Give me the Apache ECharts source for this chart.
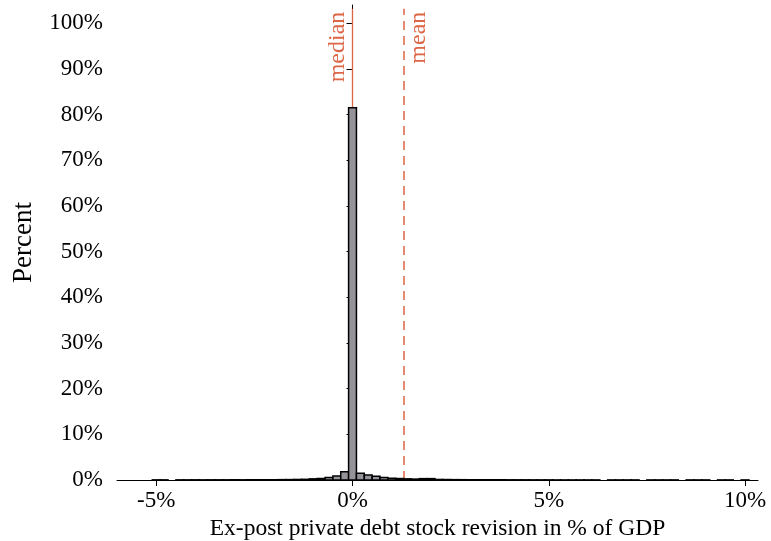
<!DOCTYPE html>
<html>
<head>
  <meta charset="utf-8" />
  <script src="https://cdn.jsdelivr.net/npm/echarts@6/dist/echarts.min.js"></script>
  <style>
    html, body { margin: 0; padding: 0; background: #fff; }
    #main { width: 771px; height: 541px; }
  </style>
</head>
<body>
<div id="main"></div>
<script>
  // histogram bins: width 0.2 pp, first bin starts at -5.1
  let binWidth = 0.2
  let firstBinLeft = -5.1
  // share of observations per bin, in %  (null = empty bin)
  let binShares = [
    0.03, 0.03, null, 0.03, 0.03, 0.04, 0.03, 0.04, 0.04, 0.04,
    0.05, 0.04, 0.05, 0.05, 0.06, 0.06, 0.08, 0.09, 0.12, 0.15,
    0.25, 0.35, 0.55, 0.85, 1.8,
    81.5,
    1.5, 1.1, 0.8, 0.55, 0.4, 0.32, 0.25, 0.2, 0.3, 0.3,
    0.12, 0.1, 0.08, 0.07, 0.06, 0.06, 0.05, 0.05, 0.05, 0.04,
    0.04, 0.04, 0.03, 0.03, 0.03, 0.02, 0.02, 0.02, 0.02, 0.02,
    0.02, null, 0.02, 0.02, 0.02, 0.02, null, 0.02, 0.02, 0.02,
    0.02, null, 0.02, 0.02, 0.02, null, 0.02, 0.02, null, 0.02
  ]
  let medianValue = 0
  let meanValue = 1.3
  let xTickValues = [-5, 0, 5, 10]
  let yTickValues = [0, 10, 20, 30, 40, 50, 60, 70, 80, 90, 100]

  let serif = "'Liberation Serif', 'Times New Roman', serif"
  let barFill = '#959399'
  let refColor = '#dc6646'
  let lineTop = 103.2

  let histData = []
  for (let i = 0; i < binShares.length; i++) {
    if (binShares[i] == null) continue
    let left = firstBinLeft + i * binWidth
    histData.push([left, left + binWidth, binShares[i]])
  }

  let chart = echarts.init(document.getElementById('main'))

  chart.setOption({
    animation: false,
    grid: { left: 117, right: 13, top: 5, bottom: 61, outerBoundsMode: 'none', containLabel: false },
    xAxis: {
      type: 'value',
      min: -6,
      max: 10.33,
      splitLine: { show: false },
      axisLine: { lineStyle: { color: '#000', width: 1 } },
      axisTick: { customValues: xTickValues, length: 6, lineStyle: { color: '#000' } },
      axisLabel: {
        customValues: xTickValues,
        formatter: v => v + '%',
        fontFamily: serif, fontSize: 23, color: '#000', margin: 9
      },
      name: 'Ex-post private debt stock revision in % of GDP',
      nameLocation: 'middle',
      nameGap: 31,
      nameTextStyle: { fontFamily: serif, fontSize: 23.5, color: '#000' }
    },
    yAxis: {
      type: 'value',
      min: 0,
      max: 104,
      splitLine: { show: false },
      axisLine: { show: true, lineStyle: { color: '#000', width: 1 } },
      axisTick: { show: true, customValues: yTickValues, length: 6, lineStyle: { color: '#000' } },
      axisLabel: {
        customValues: yTickValues,
        formatter: v => v + '%',
        fontFamily: serif, fontSize: 23, color: '#000', margin: 14
      },
      name: 'Percent',
      nameLocation: 'middle',
      nameGap: 80,
      nameTextStyle: { fontFamily: serif, fontSize: 27, color: '#000' }
    },
    series: [
      {
        type: 'custom',
        z: 3,
        encode: { x: [0, 1], y: 2 },
        data: histData,
        renderItem: function (params, api) {
          let p0 = api.coord([api.value(0), 0])
          let p1 = api.coord([api.value(1), api.value(2)])
          return {
            type: 'rect',
            shape: { x: p0[0], y: p1[1], width: p1[0] - p0[0], height: p0[1] - p1[1] },
            style: { fill: barFill, stroke: '#000', lineWidth: 1.5 }
          }
        },
        markLine: {
          silent: true,
          symbol: 'none',
          z: 2,
          data: [
            [
              { coord: [medianValue, 0], lineStyle: { type: 'solid', color: refColor, width: 1.3 },
                label: { formatter: 'median', position: 'insideEndTop' } },
              { coord: [medianValue, lineTop] }
            ],
            [
              { coord: [meanValue, 0], lineStyle: { type: [9, 6], color: refColor, width: 1.5 },
                label: { formatter: 'mean', position: 'insideEndBottom' } },
              { coord: [meanValue, lineTop] }
            ]
          ],
          label: { fontFamily: serif, fontSize: 24, color: refColor, distance: 3 }
        }
      }
    ]
  })
</script>
</body>
</html>
